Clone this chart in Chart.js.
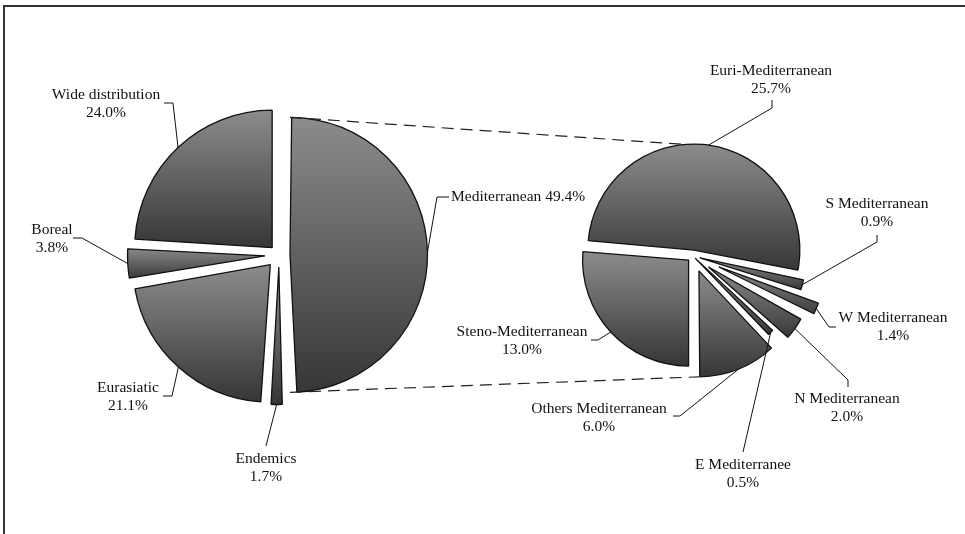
<!DOCTYPE html>
<html>
<head>
<meta charset="utf-8">
<script src="https://cdn.jsdelivr.net/npm/chart.js@4.4.1/dist/chart.umd.min.js"></script>
<style>
  html, body { margin: 0; padding: 0; background: #fff; }
  #wrap { position: relative; width: 965px; height: 534px; overflow: hidden; }
  #wrap canvas { position: absolute; left: 0; top: 0; }
  #frame { position: absolute; left: 3px; top: 5px; width: 980px; height: 560px;
           border-top: 2px solid #333; border-left: 2px solid #333; }
</style>
</head>
<body>
<div id="wrap">
  <div id="frame"></div>
  <canvas id="mainPie" width="965" height="534"></canvas>
  <canvas id="subPie" width="965" height="534"></canvas>
</div>
<script>
// chorological spectrum (%)
const mainLabels = ["Mediterranean", "Endemics", "Eurasiatic", "Boreal", "Wide distribution"];
const mainValues = [49.4, 1.7, 21.1, 3.8, 24.0];

// split of the Mediterranean share (%)
const subLabels = ["Steno-Mediterranean", "Euri-Mediterranean", "S Mediterranean", "W Mediterranean",
                   "N Mediterranean", "E Mediterranee", "Others Mediterranean"];
const subValues = [13.0, 25.7, 0.9, 1.4, 2.0, 0.5, 6.0];

// how far each slice is pulled out (px)
const mainShift = [11, 12, 13, 14, 10];
const subShift = [6, 6, 7, 28, 19, 3, 16];

const FONT = '15.5px "Liberation Serif", "Times New Roman", serif';

// label spots: text centre and the elbow of the leader line
const mainSpots = [
  { x: 451, y: 197, align: "left", path: [[437, 197], [449, 197]] },
  { x: 266, y: 459, path: [[266, 446]] },
  { x: 128, y: 388, path: [[172, 396], [163, 396]] },
  { x: 52, y: 230, path: [[82, 238], [73, 238]] },
  { x: 106, y: 95, path: [[173, 103], [164, 103]] }
];
const subSpots = [
  { x: 522, y: 332, path: [[598, 340], [591, 340]] },
  { x: 771, y: 71, path: [[772, 108], [772, 100]] },
  { x: 877, y: 204, path: [[877, 242], [877, 235]] },
  { x: 893, y: 318, path: [[829, 327], [836, 327]] },
  { x: 847, y: 399, path: [[848, 380], [848, 387]] },
  { x: 743, y: 465, path: [[743, 452]] },
  { x: 599, y: 409, path: [[680, 416], [673, 416]] }
];

function arcFix(circ) {
  return 1 - Math.sin(Math.min(Math.PI, circ || 0));
}

// vertical grey gradient over each slice's own height
function sliceFill(c) {
  const chart = c.chart, area = chart.chartArea;
  if (!area || c.dataIndex === undefined) return "#5a5a5a";
  const ds = chart.data.datasets[0];
  const vals = ds.data;
  const total = vals.reduce(function (a, b) { return a + b; }, 0);
  const r = ds.radius;
  let a0 = ((chart.options.rotation || 0) - 90) * Math.PI / 180;
  for (let i = 0; i < c.dataIndex; i++) a0 += vals[i] / total * 2 * Math.PI;
  const a1 = a0 + vals[c.dataIndex] / total * 2 * Math.PI;
  const cy = (area.top + area.bottom) / 2;
  const ys = [cy, cy + r * Math.sin(a0), cy + r * Math.sin(a1)];
  [-Math.PI / 2, Math.PI / 2].forEach(function (t) {
    for (let k = -2; k <= 2; k++) {
      const tt = t + k * 2 * Math.PI;
      if (tt >= a0 && tt <= a1) ys.push(cy + r * Math.sin(tt));
    }
  });
  const g = chart.ctx.createLinearGradient(0, Math.min.apply(null, ys), 0, Math.max.apply(null, ys));
  g.addColorStop(0, "#8c8c8c");
  g.addColorStop(1, "#363636");
  return g;
}

// chart.js grows an exploded slice's radius by offset/4*fix; take that back
const keepRadius = {
  id: "keepRadius",
  beforeDatasetsDraw: function (chart) {
    const ds = chart.data.datasets[0];
    chart.getDatasetMeta(0).data.forEach(function (el) {
      const grow = (el.options.offset || 0) / 4 * arcFix(el.circumference);
      el.outerRadius = ds.radius - grow;
    });
  }
};

function arcPoint(el, angle) {
  const mid = (el.startAngle + el.endAngle) / 2;
  const s = (el.options.offset || 0) / 4;
  const r = el.outerRadius + s * arcFix(el.circumference);
  return { x: el.x + Math.cos(mid) * s + Math.cos(angle) * r,
           y: el.y + Math.sin(mid) * s + Math.sin(angle) * r };
}

function makeLabels(spots) {
  return {
    id: "callouts",
    afterDatasetsDraw: function (chart) {
      const ctx = chart.ctx;
      const meta = chart.getDatasetMeta(0);
      const ds = chart.data.datasets[0];
      ctx.save();
      ctx.strokeStyle = "#111";
      ctx.lineWidth = 1;
      ctx.fillStyle = "#111";
      ctx.font = FONT;
      ctx.textBaseline = "middle";
      spots.forEach(function (p, i) {
        const el = meta.data[i];
        const a = arcPoint(el, (el.startAngle + el.endAngle) / 2);
        ctx.beginPath();
        ctx.moveTo(a.x, a.y);
        p.path.forEach(function (pt) { ctx.lineTo(pt[0], pt[1]); });
        ctx.stroke();
        const pct = ds.data[i].toFixed(1) + "%";
        if (p.align === "left") {
          ctx.textAlign = "left";
          ctx.fillText(chart.data.labels[i] + " " + pct, p.x, p.y);
        } else {
          ctx.textAlign = "center";
          ctx.fillText(chart.data.labels[i], p.x, p.y);
          ctx.fillText(pct, p.x, p.y + 18);
        }
      });
      ctx.restore();
    }
  };
}

function pieConfig(labels, values, shifts, radius, rotation, padding, spots, extra) {
  const plugins = [keepRadius, makeLabels(spots)];
  if (extra) plugins.push(extra);
  return {
    type: "pie",
    data: {
      labels: labels,
      datasets: [{
        data: values,
        radius: radius,
        offset: shifts.map(function (s) { return s * 4; }),
        backgroundColor: sliceFill,
        borderColor: "#111",
        borderWidth: 1.3
      }]
    },
    options: {
      responsive: false,
      animation: false,
      rotation: rotation,
      layout: { padding: padding },
      events: [],
      plugins: { legend: { display: false }, tooltip: { enabled: false } }
    },
    plugins: plugins
  };
}

const mainChart = new Chart(document.getElementById("mainPie"),
  pieConfig(mainLabels, mainValues, mainShift, 137.5, 0,
    { left: 129, right: 536, top: 105, bottom: 129 }, mainSpots));

// dashed lines joining the Mediterranean slice to the second pie
const joinLines = {
  id: "joinLines",
  afterDraw: function (chart) {
    const med = mainChart.getDatasetMeta(0).data[0];
    const sub = chart.getDatasetMeta(0).data;
    const p1 = arcPoint(med, -Math.PI / 2);
    const p2 = arcPoint(sub[1], 265 * Math.PI / 180);
    const p3 = arcPoint(med, Math.PI / 2);
    const p4 = arcPoint(sub[6], Math.PI / 2);
    const ctx = chart.ctx;
    ctx.save();
    ctx.strokeStyle = "#222";
    ctx.lineWidth = 1.2;
    ctx.setLineDash([12, 7]);
    ctx.beginPath();
    ctx.moveTo(p1.x, p1.y); ctx.lineTo(p2.x, p2.y);
    ctx.moveTo(p3.x, p3.y); ctx.lineTo(p4.x, p4.y);
    ctx.stroke();
    ctx.restore();
  }
};

const subChart = new Chart(document.getElementById("subPie"),
  pieConfig(subLabels, subValues, subShift, 106, 180,
    { left: 573, right: 152, top: 136, bottom: 158 }, subSpots, joinLines));
</script>
</body>
</html>
